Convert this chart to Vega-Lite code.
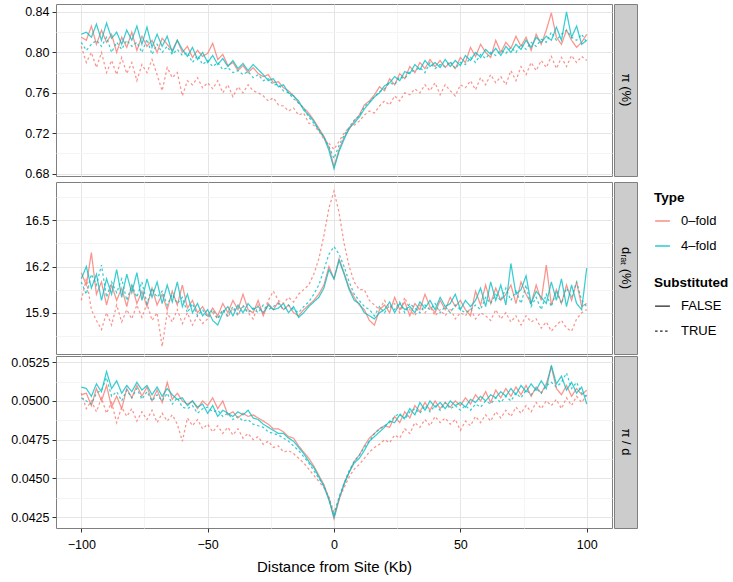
{
"$schema": "https://vega.github.io/schema/vega-lite/v6.json",
"padding": {"left": 0, "top": 3, "right": 0, "bottom": 0},
"config": {
  "font": "Liberation Sans",
  "view": {"stroke": "#7f7f7f"},
  "axis": {"labelFontSize": 12.5, "labelColor": "#000", "tickColor": "#333", "tickSize": 4, "domain": false, "labelPadding": 3, "titleFontWeight": "normal", "titleFontSize": 15, "titleColor": "#000"},
  "line": {"strokeWidth": 1.25, "opacity": 0.78}
},
"datasets": {
  "series": [
    {"key": "rF", "Type": "0–fold", "Substituted": "FALSE"},
    {"key": "cF", "Type": "4–fold", "Substituted": "FALSE"},
    {"key": "rT", "Type": "0–fold", "Substituted": "TRUE"},
    {"key": "cT", "Type": "4–fold", "Substituted": "TRUE"}
  ],
  "values": [
{"p":"pi","x":-100,"rF":0.815,"cF":0.818,"rT":0.806,"cT":0.810},
{"p":"pi","x":-98,"rF":0.812,"cF":0.820,"rT":0.790,"cT":0.802},
{"p":"pi","x":-96,"rF":0.826,"cF":0.815,"rT":0.800,"cT":0.808},
{"p":"pi","x":-94,"rF":0.808,"cF":0.828,"rT":0.785,"cT":0.812},
{"p":"pi","x":-92,"rF":0.822,"cF":0.812,"rT":0.800,"cT":0.806},
{"p":"pi","x":-90,"rF":0.810,"cF":0.829,"rT":0.780,"cT":0.815},
{"p":"pi","x":-88,"rF":0.818,"cF":0.814,"rT":0.792,"cT":0.800},
{"p":"pi","x":-86,"rF":0.800,"cF":0.820,"rT":0.778,"cT":0.810},
{"p":"pi","x":-84,"rF":0.815,"cF":0.808,"rT":0.795,"cT":0.803},
{"p":"pi","x":-82,"rF":0.805,"cF":0.822,"rT":0.779,"cT":0.812},
{"p":"pi","x":-80,"rF":0.820,"cF":0.812,"rT":0.790,"cT":0.806},
{"p":"pi","x":-78,"rF":0.802,"cF":0.826,"rT":0.772,"cT":0.810},
{"p":"pi","x":-76,"rF":0.816,"cF":0.808,"rT":0.788,"cT":0.800},
{"p":"pi","x":-74,"rF":0.806,"cF":0.825,"rT":0.780,"cT":0.813},
{"p":"pi","x":-72,"rF":0.812,"cF":0.805,"rT":0.793,"cT":0.798},
{"p":"pi","x":-70,"rF":0.800,"cF":0.818,"rT":0.778,"cT":0.808},
{"p":"pi","x":-68,"rF":0.814,"cF":0.806,"rT":0.762,"cT":0.800},
{"p":"pi","x":-66,"rF":0.808,"cF":0.816,"rT":0.785,"cT":0.806},
{"p":"pi","x":-64,"rF":0.802,"cF":0.800,"rT":0.775,"cT":0.798},
{"p":"pi","x":-62,"rF":0.812,"cF":0.812,"rT":0.780,"cT":0.803},
{"p":"pi","x":-60,"rF":0.800,"cF":0.803,"rT":0.757,"cT":0.797},
{"p":"pi","x":-58,"rF":0.806,"cF":0.796,"rT":0.772,"cT":0.800},
{"p":"pi","x":-56,"rF":0.795,"cF":0.805,"rT":0.768,"cT":0.790},
{"p":"pi","x":-54,"rF":0.802,"cF":0.793,"rT":0.775,"cT":0.797},
{"p":"pi","x":-52,"rF":0.796,"cF":0.800,"rT":0.765,"cT":0.788},
{"p":"pi","x":-50,"rF":0.799,"cF":0.790,"rT":0.770,"cT":0.792},
{"p":"pi","x":-48,"rF":0.809,"cF":0.797,"rT":0.764,"cT":0.786},
{"p":"pi","x":-46,"rF":0.793,"cF":0.788,"rT":0.772,"cT":0.790},
{"p":"pi","x":-44,"rF":0.798,"cF":0.794,"rT":0.760,"cT":0.783},
{"p":"pi","x":-42,"rF":0.787,"cF":0.786,"rT":0.768,"cT":0.785},
{"p":"pi","x":-40,"rF":0.790,"cF":0.792,"rT":0.756,"cT":0.780},
{"p":"pi","x":-38,"rF":0.782,"cF":0.784,"rT":0.766,"cT":0.782},
{"p":"pi","x":-36,"rF":0.787,"cF":0.789,"rT":0.760,"cT":0.778},
{"p":"pi","x":-34,"rF":0.780,"cF":0.782,"rT":0.768,"cT":0.781},
{"p":"pi","x":-32,"rF":0.785,"cF":0.788,"rT":0.762,"cT":0.775},
{"p":"pi","x":-30,"rF":0.779,"cF":0.783,"rT":0.760,"cT":0.778},
{"p":"pi","x":-28,"rF":0.776,"cF":0.778,"rT":0.757,"cT":0.772},
{"p":"pi","x":-26,"rF":0.778,"cF":0.772,"rT":0.752,"cT":0.774},
{"p":"pi","x":-24,"rF":0.770,"cF":0.774,"rT":0.755,"cT":0.768},
{"p":"pi","x":-22,"rF":0.771,"cF":0.766,"rT":0.748,"cT":0.768},
{"p":"pi","x":-20,"rF":0.765,"cF":0.768,"rT":0.747,"cT":0.762},
{"p":"pi","x":-18,"rF":0.762,"cF":0.760,"rT":0.742,"cT":0.760},
{"p":"pi","x":-16,"rF":0.757,"cF":0.757,"rT":0.745,"cT":0.754},
{"p":"pi","x":-14,"rF":0.750,"cF":0.752,"rT":0.738,"cT":0.750},
{"p":"pi","x":-12,"rF":0.745,"cF":0.743,"rT":0.740,"cT":0.745},
{"p":"pi","x":-10,"rF":0.740,"cF":0.738,"rT":0.730,"cT":0.736},
{"p":"pi","x":-8,"rF":0.733,"cF":0.732,"rT":0.728,"cT":0.730},
{"p":"pi","x":-6,"rF":0.725,"cF":0.723,"rT":0.722,"cT":0.724},
{"p":"pi","x":-4,"rF":0.717,"cF":0.716,"rT":0.714,"cT":0.716},
{"p":"pi","x":-2,"rF":0.706,"cF":0.703,"rT":0.710,"cT":0.707},
{"p":"pi","x":0,"rF":0.687,"cF":0.685,"rT":0.704,"cT":0.695},
{"p":"pi","x":2,"rF":0.704,"cF":0.702,"rT":0.712,"cT":0.708},
{"p":"pi","x":4,"rF":0.716,"cF":0.714,"rT":0.720,"cT":0.718},
{"p":"pi","x":6,"rF":0.724,"cF":0.725,"rT":0.726,"cT":0.726},
{"p":"pi","x":8,"rF":0.732,"cF":0.730,"rT":0.728,"cT":0.733},
{"p":"pi","x":10,"rF":0.738,"cF":0.736,"rT":0.732,"cT":0.737},
{"p":"pi","x":12,"rF":0.748,"cF":0.744,"rT":0.738,"cT":0.746},
{"p":"pi","x":14,"rF":0.752,"cF":0.750,"rT":0.742,"cT":0.751},
{"p":"pi","x":16,"rF":0.758,"cF":0.756,"rT":0.740,"cT":0.756},
{"p":"pi","x":18,"rF":0.766,"cF":0.760,"rT":0.747,"cT":0.761},
{"p":"pi","x":20,"rF":0.762,"cF":0.767,"rT":0.752,"cT":0.764},
{"p":"pi","x":22,"rF":0.774,"cF":0.770,"rT":0.748,"cT":0.770},
{"p":"pi","x":24,"rF":0.768,"cF":0.776,"rT":0.757,"cT":0.768},
{"p":"pi","x":26,"rF":0.779,"cF":0.772,"rT":0.752,"cT":0.776},
{"p":"pi","x":28,"rF":0.774,"cF":0.781,"rT":0.760,"cT":0.774},
{"p":"pi","x":30,"rF":0.786,"cF":0.779,"rT":0.758,"cT":0.781},
{"p":"pi","x":32,"rF":0.780,"cF":0.788,"rT":0.764,"cT":0.782},
{"p":"pi","x":34,"rF":0.790,"cF":0.783,"rT":0.760,"cT":0.785},
{"p":"pi","x":36,"rF":0.784,"cF":0.792,"rT":0.768,"cT":0.780},
{"p":"pi","x":38,"rF":0.793,"cF":0.786,"rT":0.762,"cT":0.790},
{"p":"pi","x":40,"rF":0.786,"cF":0.790,"rT":0.770,"cT":0.784},
{"p":"pi","x":42,"rF":0.792,"cF":0.785,"rT":0.758,"cT":0.788},
{"p":"pi","x":44,"rF":0.785,"cF":0.793,"rT":0.768,"cT":0.786},
{"p":"pi","x":46,"rF":0.790,"cF":0.786,"rT":0.762,"cT":0.791},
{"p":"pi","x":48,"rF":0.784,"cF":0.792,"rT":0.757,"cT":0.784},
{"p":"pi","x":50,"rF":0.795,"cF":0.787,"rT":0.768,"cT":0.790},
{"p":"pi","x":52,"rF":0.790,"cF":0.797,"rT":0.765,"cT":0.788},
{"p":"pi","x":54,"rF":0.805,"cF":0.792,"rT":0.772,"cT":0.795},
{"p":"pi","x":56,"rF":0.796,"cF":0.800,"rT":0.763,"cT":0.790},
{"p":"pi","x":58,"rF":0.808,"cF":0.795,"rT":0.775,"cT":0.798},
{"p":"pi","x":60,"rF":0.800,"cF":0.803,"rT":0.768,"cT":0.794},
{"p":"pi","x":62,"rF":0.795,"cF":0.798,"rT":0.778,"cT":0.800},
{"p":"pi","x":64,"rF":0.812,"cF":0.804,"rT":0.770,"cT":0.797},
{"p":"pi","x":66,"rF":0.800,"cF":0.797,"rT":0.776,"cT":0.802},
{"p":"pi","x":68,"rF":0.810,"cF":0.806,"rT":0.768,"cT":0.799},
{"p":"pi","x":70,"rF":0.804,"cF":0.800,"rT":0.782,"cT":0.805},
{"p":"pi","x":72,"rF":0.816,"cF":0.808,"rT":0.772,"cT":0.800},
{"p":"pi","x":74,"rF":0.806,"cF":0.803,"rT":0.786,"cT":0.808},
{"p":"pi","x":76,"rF":0.815,"cF":0.812,"rT":0.778,"cT":0.803},
{"p":"pi","x":78,"rF":0.802,"cF":0.805,"rT":0.790,"cT":0.810},
{"p":"pi","x":80,"rF":0.818,"cF":0.815,"rT":0.782,"cT":0.806},
{"p":"pi","x":82,"rF":0.808,"cF":0.810,"rT":0.792,"cT":0.813},
{"p":"pi","x":84,"rF":0.822,"cF":0.816,"rT":0.785,"cT":0.810},
{"p":"pi","x":86,"rF":0.839,"cF":0.812,"rT":0.796,"cT":0.820},
{"p":"pi","x":88,"rF":0.815,"cF":0.825,"rT":0.784,"cT":0.812},
{"p":"pi","x":90,"rF":0.808,"cF":0.812,"rT":0.795,"cT":0.818},
{"p":"pi","x":92,"rF":0.822,"cF":0.840,"rT":0.786,"cT":0.822},
{"p":"pi","x":94,"rF":0.812,"cF":0.815,"rT":0.797,"cT":0.815},
{"p":"pi","x":96,"rF":0.805,"cF":0.826,"rT":0.790,"cT":0.812},
{"p":"pi","x":98,"rF":0.810,"cF":0.808,"rT":0.796,"cT":0.818},
{"p":"pi","x":100,"rF":0.818,"cF":0.812,"rT":0.792,"cT":0.810},
{"p":"drat","x":-100,"rF":16.16,"cF":16.12,"rT":15.98,"cT":16.10},
{"p":"drat","x":-98,"rF":16.08,"cF":16.20,"rT":16.12,"cT":16.02},
{"p":"drat","x":-96,"rF":16.29,"cF":16.06,"rT":15.92,"cT":16.15},
{"p":"drat","x":-94,"rF":16.02,"cF":16.15,"rT":15.85,"cT":16.08},
{"p":"drat","x":-92,"rF":16.10,"cF":15.98,"rT":15.79,"cT":16.21},
{"p":"drat","x":-90,"rF":15.95,"cF":16.12,"rT":15.90,"cT":16.00},
{"p":"drat","x":-88,"rF":16.08,"cF":16.02,"rT":15.82,"cT":16.10},
{"p":"drat","x":-86,"rF":15.98,"cF":16.18,"rT":15.95,"cT":16.03},
{"p":"drat","x":-84,"rF":16.06,"cF":16.00,"rT":15.84,"cT":16.12},
{"p":"drat","x":-82,"rF":15.94,"cF":16.15,"rT":15.92,"cT":15.98},
{"p":"drat","x":-80,"rF":16.08,"cF":16.03,"rT":15.86,"cT":16.08},
{"p":"drat","x":-78,"rF":15.96,"cF":16.16,"rT":15.95,"cT":16.00},
{"p":"drat","x":-76,"rF":16.04,"cF":15.98,"rT":15.87,"cT":16.10},
{"p":"drat","x":-74,"rF":15.94,"cF":16.12,"rT":15.96,"cT":15.96},
{"p":"drat","x":-72,"rF":16.06,"cF":16.00,"rT":15.85,"cT":16.06},
{"p":"drat","x":-70,"rF":15.95,"cF":16.10,"rT":15.90,"cT":16.00},
{"p":"drat","x":-68,"rF":16.02,"cF":15.96,"rT":15.68,"cT":16.04},
{"p":"drat","x":-66,"rF":15.92,"cF":16.08,"rT":15.90,"cT":15.95},
{"p":"drat","x":-64,"rF":16.04,"cF":15.97,"rT":15.84,"cT":16.02},
{"p":"drat","x":-62,"rF":15.95,"cF":16.10,"rT":15.92,"cT":15.96},
{"p":"drat","x":-60,"rF":16.08,"cF":15.94,"rT":15.83,"cT":16.00},
{"p":"drat","x":-58,"rF":15.93,"cF":16.02,"rT":15.90,"cT":15.90},
{"p":"drat","x":-56,"rF":15.98,"cF":15.90,"rT":15.82,"cT":15.96},
{"p":"drat","x":-54,"rF":15.90,"cF":15.96,"rT":15.88,"cT":15.88},
{"p":"drat","x":-52,"rF":15.94,"cF":15.88,"rT":15.83,"cT":15.92},
{"p":"drat","x":-50,"rF":15.88,"cF":15.92,"rT":15.86,"cT":15.87},
{"p":"drat","x":-48,"rF":15.93,"cF":15.85,"rT":15.90,"cT":15.92},
{"p":"drat","x":-46,"rF":15.88,"cF":15.82,"rT":15.86,"cT":15.86},
{"p":"drat","x":-44,"rF":15.96,"cF":15.90,"rT":15.92,"cT":15.92},
{"p":"drat","x":-42,"rF":15.90,"cF":15.94,"rT":15.87,"cT":15.88},
{"p":"drat","x":-40,"rF":15.98,"cF":15.88,"rT":15.93,"cT":15.94},
{"p":"drat","x":-38,"rF":15.92,"cF":15.95,"rT":15.88,"cT":15.89},
{"p":"drat","x":-36,"rF":16.02,"cF":15.90,"rT":15.95,"cT":15.94},
{"p":"drat","x":-34,"rF":15.92,"cF":15.96,"rT":15.90,"cT":15.90},
{"p":"drat","x":-32,"rF":15.90,"cF":15.92,"rT":15.86,"cT":15.93},
{"p":"drat","x":-30,"rF":15.98,"cF":15.94,"rT":15.95,"cT":15.90},
{"p":"drat","x":-28,"rF":15.88,"cF":15.90,"rT":15.90,"cT":15.95},
{"p":"drat","x":-26,"rF":15.96,"cF":15.95,"rT":15.98,"cT":15.92},
{"p":"drat","x":-24,"rF":15.92,"cF":15.92,"rT":16.04,"cT":15.94},
{"p":"drat","x":-22,"rF":15.97,"cF":15.93,"rT":15.98,"cT":15.96},
{"p":"drat","x":-20,"rF":15.92,"cF":15.96,"rT":15.96,"cT":15.92},
{"p":"drat","x":-18,"rF":15.95,"cF":15.90,"rT":16.00,"cT":15.95},
{"p":"drat","x":-16,"rF":15.90,"cF":15.94,"rT":15.97,"cT":15.92},
{"p":"drat","x":-14,"rF":15.88,"cF":15.87,"rT":16.02,"cT":15.90},
{"p":"drat","x":-12,"rF":15.92,"cF":15.90,"rT":16.05,"cT":15.94},
{"p":"drat","x":-10,"rF":15.95,"cF":15.94,"rT":16.08,"cT":15.97},
{"p":"drat","x":-8,"rF":15.98,"cF":15.97,"rT":16.15,"cT":16.02},
{"p":"drat","x":-6,"rF":16.02,"cF":16.00,"rT":16.25,"cT":16.08},
{"p":"drat","x":-4,"rF":16.08,"cF":16.06,"rT":16.40,"cT":16.18},
{"p":"drat","x":-2,"rF":16.20,"cF":16.18,"rT":16.58,"cT":16.28},
{"p":"drat","x":0,"rF":16.12,"cF":16.12,"rT":16.69,"cT":16.33},
{"p":"drat","x":2,"rF":16.25,"cF":16.24,"rT":16.55,"cT":16.28},
{"p":"drat","x":4,"rF":16.16,"cF":16.15,"rT":16.35,"cT":16.20},
{"p":"drat","x":6,"rF":16.06,"cF":16.05,"rT":16.20,"cT":16.10},
{"p":"drat","x":8,"rF":16.00,"cF":15.98,"rT":16.10,"cT":16.02},
{"p":"drat","x":10,"rF":15.95,"cF":15.96,"rT":16.05,"cT":15.98},
{"p":"drat","x":12,"rF":15.92,"cF":15.90,"rT":16.05,"cT":15.94},
{"p":"drat","x":14,"rF":15.85,"cF":15.88,"rT":15.98,"cT":15.92},
{"p":"drat","x":16,"rF":15.82,"cF":15.86,"rT":15.95,"cT":15.88},
{"p":"drat","x":18,"rF":15.92,"cF":15.90,"rT":15.92,"cT":15.94},
{"p":"drat","x":20,"rF":15.95,"cF":15.92,"rT":15.98,"cT":15.90},
{"p":"drat","x":22,"rF":15.90,"cF":15.97,"rT":15.93,"cT":15.95},
{"p":"drat","x":24,"rF":16.00,"cF":15.90,"rT":15.96,"cT":15.92},
{"p":"drat","x":26,"rF":15.92,"cF":15.96,"rT":15.90,"cT":15.97},
{"p":"drat","x":28,"rF":15.97,"cF":15.92,"rT":16.00,"cT":15.90},
{"p":"drat","x":30,"rF":15.88,"cF":15.94,"rT":15.92,"cT":15.96},
{"p":"drat","x":32,"rF":15.96,"cF":15.90,"rT":15.88,"cT":15.93},
{"p":"drat","x":34,"rF":15.92,"cF":15.97,"rT":15.95,"cT":15.90},
{"p":"drat","x":36,"rF":16.02,"cF":15.93,"rT":15.90,"cT":15.95},
{"p":"drat","x":38,"rF":15.94,"cF":15.98,"rT":15.94,"cT":15.92},
{"p":"drat","x":40,"rF":15.90,"cF":15.92,"rT":15.88,"cT":15.96},
{"p":"drat","x":42,"rF":15.98,"cF":16.00,"rT":15.92,"cT":15.90},
{"p":"drat","x":44,"rF":15.92,"cF":15.94,"rT":15.88,"cT":15.94},
{"p":"drat","x":46,"rF":16.00,"cF":15.96,"rT":15.93,"cT":15.90},
{"p":"drat","x":48,"rF":15.94,"cF":16.02,"rT":15.86,"cT":15.95},
{"p":"drat","x":50,"rF":15.98,"cF":15.92,"rT":15.90,"cT":15.92},
{"p":"drat","x":52,"rF":15.92,"cF":15.98,"rT":15.88,"cT":15.90},
{"p":"drat","x":54,"rF":15.88,"cF":15.94,"rT":15.93,"cT":15.92},
{"p":"drat","x":56,"rF":16.04,"cF":15.98,"rT":15.86,"cT":15.95},
{"p":"drat","x":58,"rF":15.95,"cF":16.06,"rT":15.90,"cT":15.92},
{"p":"drat","x":60,"rF":16.08,"cF":15.94,"rT":15.88,"cT":16.00},
{"p":"drat","x":62,"rF":15.96,"cF":16.10,"rT":15.85,"cT":15.96},
{"p":"drat","x":64,"rF":16.06,"cF":15.98,"rT":15.92,"cT":16.02},
{"p":"drat","x":66,"rF":15.98,"cF":16.08,"rT":15.86,"cT":15.98},
{"p":"drat","x":68,"rF":16.02,"cF":15.95,"rT":15.90,"cT":16.06},
{"p":"drat","x":70,"rF":16.08,"cF":16.22,"rT":15.84,"cT":15.98},
{"p":"drat","x":72,"rF":15.96,"cF":16.02,"rT":15.88,"cT":16.04},
{"p":"drat","x":74,"rF":16.10,"cF":16.05,"rT":15.82,"cT":15.96},
{"p":"drat","x":76,"rF":16.02,"cF":16.14,"rT":15.88,"cT":16.08},
{"p":"drat","x":78,"rF":15.96,"cF":15.96,"rT":15.84,"cT":15.94},
{"p":"drat","x":80,"rF":16.08,"cF":16.04,"rT":15.86,"cT":16.00},
{"p":"drat","x":82,"rF":15.98,"cF":16.00,"rT":15.80,"cT":15.92},
{"p":"drat","x":84,"rF":16.21,"cF":15.96,"rT":15.84,"cT":16.02},
{"p":"drat","x":86,"rF":15.95,"cF":16.10,"rT":15.78,"cT":15.94},
{"p":"drat","x":88,"rF":16.05,"cF":15.98,"rT":15.82,"cT":16.04},
{"p":"drat","x":90,"rF":15.96,"cF":16.12,"rT":15.85,"cT":15.96},
{"p":"drat","x":92,"rF":16.08,"cF":15.94,"rT":15.80,"cT":16.06},
{"p":"drat","x":94,"rF":15.98,"cF":16.08,"rT":15.78,"cT":16.00},
{"p":"drat","x":96,"rF":16.10,"cF":15.96,"rT":15.86,"cT":16.10},
{"p":"drat","x":98,"rF":15.94,"cF":15.92,"rT":15.90,"cT":15.98},
{"p":"drat","x":100,"rF":15.96,"cF":16.19,"rT":15.92,"cT":15.94},
{"p":"pid","x":-100,"rF":0.0504,"cF":0.0509,"rT":0.0505,"cT":0.0502},
{"p":"pid","x":-98,"rF":0.0505,"cF":0.0508,"rT":0.0495,"cT":0.0500},
{"p":"pid","x":-96,"rF":0.0497,"cF":0.0503,"rT":0.0500,"cT":0.0498},
{"p":"pid","x":-94,"rF":0.0508,"cF":0.0511,"rT":0.0493,"cT":0.0505},
{"p":"pid","x":-92,"rF":0.0500,"cF":0.0506,"rT":0.0502,"cT":0.0507},
{"p":"pid","x":-90,"rF":0.0510,"cF":0.0519,"rT":0.0492,"cT":0.0515},
{"p":"pid","x":-88,"rF":0.0496,"cF":0.0508,"rT":0.0499,"cT":0.0503},
{"p":"pid","x":-86,"rF":0.0503,"cF":0.0513,"rT":0.0486,"cT":0.0506},
{"p":"pid","x":-84,"rF":0.0495,"cF":0.0505,"rT":0.0496,"cT":0.0500},
{"p":"pid","x":-82,"rF":0.0508,"cF":0.0510,"rT":0.0490,"cT":0.0507},
{"p":"pid","x":-80,"rF":0.0502,"cF":0.0506,"rT":0.0495,"cT":0.0502},
{"p":"pid","x":-78,"rF":0.0510,"cF":0.0512,"rT":0.0487,"cT":0.0508},
{"p":"pid","x":-76,"rF":0.0503,"cF":0.0507,"rT":0.0493,"cT":0.0501},
{"p":"pid","x":-74,"rF":0.0509,"cF":0.0510,"rT":0.0488,"cT":0.0506},
{"p":"pid","x":-72,"rF":0.0500,"cF":0.0504,"rT":0.0494,"cT":0.0500},
{"p":"pid","x":-70,"rF":0.0507,"cF":0.0509,"rT":0.0486,"cT":0.0504},
{"p":"pid","x":-68,"rF":0.0499,"cF":0.0503,"rT":0.0492,"cT":0.0500},
{"p":"pid","x":-66,"rF":0.0512,"cF":0.0508,"rT":0.0487,"cT":0.0505},
{"p":"pid","x":-64,"rF":0.0501,"cF":0.0504,"rT":0.0491,"cT":0.0498},
{"p":"pid","x":-62,"rF":0.0505,"cF":0.0501,"rT":0.0485,"cT":0.0502},
{"p":"pid","x":-60,"rF":0.0500,"cF":0.0502,"rT":0.0474,"cT":0.0496},
{"p":"pid","x":-58,"rF":0.0498,"cF":0.0497,"rT":0.0489,"cT":0.0495},
{"p":"pid","x":-56,"rF":0.0500,"cF":0.0500,"rT":0.0484,"cT":0.0497},
{"p":"pid","x":-54,"rF":0.0495,"cF":0.0496,"rT":0.0488,"cT":0.0492},
{"p":"pid","x":-52,"rF":0.0500,"cF":0.0498,"rT":0.0482,"cT":0.0495},
{"p":"pid","x":-50,"rF":0.0497,"cF":0.0492,"rT":0.0485,"cT":0.0496},
{"p":"pid","x":-48,"rF":0.0502,"cF":0.0497,"rT":0.0480,"cT":0.0493},
{"p":"pid","x":-46,"rF":0.0495,"cF":0.0490,"rT":0.0484,"cT":0.0494},
{"p":"pid","x":-44,"rF":0.0500,"cF":0.0494,"rT":0.0479,"cT":0.0490},
{"p":"pid","x":-42,"rF":0.0491,"cF":0.0492,"rT":0.0483,"cT":0.0492},
{"p":"pid","x":-40,"rF":0.0493,"cF":0.0490,"rT":0.0478,"cT":0.0488},
{"p":"pid","x":-38,"rF":0.0489,"cF":0.0493,"rT":0.0482,"cT":0.0490},
{"p":"pid","x":-36,"rF":0.0492,"cF":0.0491,"rT":0.0476,"cT":0.0487},
{"p":"pid","x":-34,"rF":0.0490,"cF":0.0494,"rT":0.0479,"cT":0.0488},
{"p":"pid","x":-32,"rF":0.0491,"cF":0.0489,"rT":0.0475,"cT":0.0485},
{"p":"pid","x":-30,"rF":0.0489,"cF":0.0488,"rT":0.0477,"cT":0.0484},
{"p":"pid","x":-28,"rF":0.0487,"cF":0.0485,"rT":0.0472,"cT":0.0483},
{"p":"pid","x":-26,"rF":0.0485,"cF":0.0483,"rT":0.0474,"cT":0.0480},
{"p":"pid","x":-24,"rF":0.0482,"cF":0.0481,"rT":0.0470,"cT":0.0479},
{"p":"pid","x":-22,"rF":0.0482,"cF":0.0479,"rT":0.0471,"cT":0.0478},
{"p":"pid","x":-20,"rF":0.0480,"cF":0.0479,"rT":0.0467,"cT":0.0476},
{"p":"pid","x":-18,"rF":0.0477,"cF":0.0476,"rT":0.0468,"cT":0.0474},
{"p":"pid","x":-16,"rF":0.0476,"cF":0.0474,"rT":0.0466,"cT":0.0471},
{"p":"pid","x":-14,"rF":0.0471,"cF":0.0470,"rT":0.0463,"cT":0.0468},
{"p":"pid","x":-12,"rF":0.0467,"cF":0.0466,"rT":0.0460,"cT":0.0464},
{"p":"pid","x":-10,"rF":0.0463,"cF":0.0461,"rT":0.0456,"cT":0.0460},
{"p":"pid","x":-8,"rF":0.0458,"cF":0.0457,"rT":0.0452,"cT":0.0455},
{"p":"pid","x":-6,"rF":0.0452,"cF":0.0451,"rT":0.0448,"cT":0.0450},
{"p":"pid","x":-4,"rF":0.0446,"cF":0.0445,"rT":0.0444,"cT":0.0445},
{"p":"pid","x":-2,"rF":0.0437,"cF":0.0436,"rT":0.0438,"cT":0.0437},
{"p":"pid","x":0,"rF":0.0424,"cF":0.0425,"rT":0.0428,"cT":0.0426},
{"p":"pid","x":2,"rF":0.0436,"cF":0.0437,"rT":0.0437,"cT":0.0438},
{"p":"pid","x":4,"rF":0.0447,"cF":0.0446,"rT":0.0444,"cT":0.0447},
{"p":"pid","x":6,"rF":0.0454,"cF":0.0454,"rT":0.0451,"cT":0.0455},
{"p":"pid","x":8,"rF":0.0461,"cF":0.0460,"rT":0.0456,"cT":0.0461},
{"p":"pid","x":10,"rF":0.0465,"cF":0.0463,"rT":0.0459,"cT":0.0465},
{"p":"pid","x":12,"rF":0.0471,"cF":0.0468,"rT":0.0463,"cT":0.0470},
{"p":"pid","x":14,"rF":0.0476,"cF":0.0474,"rT":0.0467,"cT":0.0474},
{"p":"pid","x":16,"rF":0.0479,"cF":0.0477,"rT":0.0470,"cT":0.0479},
{"p":"pid","x":18,"rF":0.0482,"cF":0.0480,"rT":0.0472,"cT":0.0482},
{"p":"pid","x":20,"rF":0.0484,"cF":0.0483,"rT":0.0475,"cT":0.0484},
{"p":"pid","x":22,"rF":0.0483,"cF":0.0487,"rT":0.0473,"cT":0.0486},
{"p":"pid","x":24,"rF":0.0490,"cF":0.0486,"rT":0.0478,"cT":0.0490},
{"p":"pid","x":26,"rF":0.0486,"cF":0.0491,"rT":0.0476,"cT":0.0492},
{"p":"pid","x":28,"rF":0.0493,"cF":0.0489,"rT":0.0482,"cT":0.0488},
{"p":"pid","x":30,"rF":0.0489,"cF":0.0495,"rT":0.0479,"cT":0.0493},
{"p":"pid","x":32,"rF":0.0497,"cF":0.0491,"rT":0.0486,"cT":0.0495},
{"p":"pid","x":34,"rF":0.0493,"cF":0.0499,"rT":0.0483,"cT":0.0492},
{"p":"pid","x":36,"rF":0.0499,"cF":0.0494,"rT":0.0488,"cT":0.0497},
{"p":"pid","x":38,"rF":0.0494,"cF":0.0500,"rT":0.0484,"cT":0.0493},
{"p":"pid","x":40,"rF":0.0500,"cF":0.0496,"rT":0.0490,"cT":0.0497},
{"p":"pid","x":42,"rF":0.0495,"cF":0.0499,"rT":0.0486,"cT":0.0494},
{"p":"pid","x":44,"rF":0.0499,"cF":0.0495,"rT":0.0489,"cT":0.0499},
{"p":"pid","x":46,"rF":0.0496,"cF":0.0500,"rT":0.0485,"cT":0.0495},
{"p":"pid","x":48,"rF":0.0500,"cF":0.0497,"rT":0.0488,"cT":0.0497},
{"p":"pid","x":50,"rF":0.0497,"cF":0.0499,"rT":0.0481,"cT":0.0494},
{"p":"pid","x":52,"rF":0.0502,"cF":0.0496,"rT":0.0487,"cT":0.0497},
{"p":"pid","x":54,"rF":0.0498,"cF":0.0501,"rT":0.0484,"cT":0.0494},
{"p":"pid","x":56,"rF":0.0504,"cF":0.0499,"rT":0.0490,"cT":0.0498},
{"p":"pid","x":58,"rF":0.0500,"cF":0.0503,"rT":0.0486,"cT":0.0496},
{"p":"pid","x":60,"rF":0.0506,"cF":0.0500,"rT":0.0491,"cT":0.0500},
{"p":"pid","x":62,"rF":0.0499,"cF":0.0504,"rT":0.0487,"cT":0.0498},
{"p":"pid","x":64,"rF":0.0507,"cF":0.0502,"rT":0.0493,"cT":0.0502},
{"p":"pid","x":66,"rF":0.0502,"cF":0.0506,"rT":0.0489,"cT":0.0499},
{"p":"pid","x":68,"rF":0.0508,"cF":0.0503,"rT":0.0494,"cT":0.0503},
{"p":"pid","x":70,"rF":0.0503,"cF":0.0508,"rT":0.0490,"cT":0.0500},
{"p":"pid","x":72,"rF":0.0509,"cF":0.0504,"rT":0.0496,"cT":0.0505},
{"p":"pid","x":74,"rF":0.0504,"cF":0.0510,"rT":0.0492,"cT":0.0502},
{"p":"pid","x":76,"rF":0.0510,"cF":0.0506,"rT":0.0497,"cT":0.0507},
{"p":"pid","x":78,"rF":0.0503,"cF":0.0511,"rT":0.0493,"cT":0.0504},
{"p":"pid","x":80,"rF":0.0509,"cF":0.0507,"rT":0.0499,"cT":0.0508},
{"p":"pid","x":82,"rF":0.0505,"cF":0.0513,"rT":0.0495,"cT":0.0505},
{"p":"pid","x":84,"rF":0.0511,"cF":0.0508,"rT":0.0500,"cT":0.0510},
{"p":"pid","x":86,"rF":0.0522,"cF":0.0523,"rT":0.0497,"cT":0.0512},
{"p":"pid","x":88,"rF":0.0508,"cF":0.0511,"rT":0.0501,"cT":0.0509},
{"p":"pid","x":90,"rF":0.0504,"cF":0.0516,"rT":0.0495,"cT":0.0512},
{"p":"pid","x":92,"rF":0.0510,"cF":0.0507,"rT":0.0502,"cT":0.0518},
{"p":"pid","x":94,"rF":0.0503,"cF":0.0512,"rT":0.0497,"cT":0.0508},
{"p":"pid","x":96,"rF":0.0508,"cF":0.0505,"rT":0.0503,"cT":0.0512},
{"p":"pid","x":98,"rF":0.0504,"cF":0.0509,"rT":0.0499,"cT":0.0505},
{"p":"pid","x":100,"rF":0.0507,"cF":0.0498,"rT":0.0504,"cT":0.0503}
  ]
},
"spacing": 0,
"resolve": {"scale": {"y": "independent"}},
"vconcat": [
  {"spacing": 0, "hconcat": [
    {"width": 556, "height": 172,
     "data": {"name": "values"},
     "transform": [
       {"filter": "datum.p === 'pi'"},
       {"fold": ["rF", "cF", "rT", "cT"], "as": ["key", "y"]},
       {"lookup": "key", "from": {"data": {"name": "series"}, "key": "key", "fields": ["Type", "Substituted"]}}
     ],
     "mark": {"type": "line"},
     "encoding": {
       "x": {"field": "x", "type": "quantitative", "scale": {"domain": [-110, 110], "nice": false},
             "axis": {"title": null, "labels": false, "ticks": false, "values": [-100, -75, -50, -25, 0, 25, 50, 75, 100],
                      "gridColor": {"condition": {"test": "datum.value % 50 === 0", "value": "#e5e5e5"}, "value": "#f4f4f4"}}},
       "y": {"field": "y", "type": "quantitative", "scale": {"domain": [0.6777, 0.8479], "nice": false, "zero": false},
             "axis": {"title": null, "minExtent": 55, "maxExtent": 55, "format": ".2f",
                      "values": [0.68, 0.70, 0.72, 0.74, 0.76, 0.78, 0.80, 0.82, 0.84],
                      "labelExpr": "round(datum.value*100) % 4 === 0 ? datum.label : ''",
                      "tickOpacity": {"condition": {"test": "round(datum.value*100) % 4 === 0", "value": 1}, "value": 0},
                      "gridColor": {"condition": {"test": "round(datum.value*100) % 4 === 0", "value": "#e5e5e5"}, "value": "#f4f4f4"}}},
       "color": {"field": "Type", "type": "nominal", "scale": {"domain": ["0–fold", "4–fold"], "range": ["#F8766D", "#00BFC4"]},
                 "legend": {"orient": "none", "legendX": 598, "legendY": 187, "title": "Type", "symbolType": "stroke", "symbolStrokeWidth": 1.5, "symbolSize": 220, "titleFontSize": 13.5, "titleFontWeight": "bold", "titleColor": "#000", "labelFontSize": 13, "labelColor": "#000", "rowPadding": 9, "titlePadding": 8, "labelOffset": 10}},
       "strokeDash": {"field": "Substituted", "type": "nominal", "scale": {"domain": ["FALSE", "TRUE"], "range": [[1, 0], [2.5, 2.5]]},
                 "legend": {"orient": "none", "legendX": 598, "legendY": 272, "title": "Substituted", "symbolType": "stroke", "symbolStrokeColor": "#222", "symbolStrokeWidth": 1.5, "symbolSize": 220, "titleFontSize": 13.5, "titleFontWeight": "bold", "titleColor": "#000", "labelFontSize": 13, "labelColor": "#000", "rowPadding": 9, "titlePadding": 8, "labelOffset": 10}}
     }},
    {"width": 23, "height": 172,
     "view": {"fill": "#cccccc", "stroke": "#7f7f7f"},
     "data": {"values": [{"label": "π (%)"}]},
     "mark": {"type": "text", "angle": 90, "fontSize": 13, "color": "#000"},
     "encoding": {"text": {"field": "label"}}}
  ]},
  {"spacing": 0, "hconcat": [
    {"width": 556, "height": 172,
     "data": {"name": "values"},
     "transform": [
       {"filter": "datum.p === 'drat'"},
       {"fold": ["rF", "cF", "rT", "cT"], "as": ["key", "y"]},
       {"lookup": "key", "from": {"data": {"name": "series"}, "key": "key", "fields": ["Type", "Substituted"]}}
     ],
     "mark": {"type": "line"},
     "encoding": {
       "x": {"field": "x", "type": "quantitative", "scale": {"domain": [-110, 110], "nice": false},
             "axis": {"title": null, "labels": false, "ticks": false, "values": [-100, -75, -50, -25, 0, 25, 50, 75, 100],
                      "gridColor": {"condition": {"test": "datum.value % 50 === 0", "value": "#e5e5e5"}, "value": "#f4f4f4"}}},
       "y": {"field": "y", "type": "quantitative", "scale": {"domain": [15.632, 16.749], "nice": false, "zero": false},
             "axis": {"title": null, "minExtent": 55, "maxExtent": 55, "format": ".1f",
                      "values": [15.75, 15.9, 16.05, 16.2, 16.35, 16.5, 16.65],
                      "labelExpr": "round(datum.value*100) % 30 === 0 ? datum.label : ''",
                      "tickOpacity": {"condition": {"test": "round(datum.value*100) % 30 === 0", "value": 1}, "value": 0},
                      "gridColor": {"condition": {"test": "round(datum.value*100) % 30 === 0", "value": "#e5e5e5"}, "value": "#f4f4f4"}}},
       "color": {"field": "Type", "type": "nominal", "scale": {"domain": ["0–fold", "4–fold"], "range": ["#F8766D", "#00BFC4"]}},
       "strokeDash": {"field": "Substituted", "type": "nominal", "scale": {"domain": ["FALSE", "TRUE"], "range": [[1, 0], [2.5, 2.5]]}}
     }},
    {"width": 23, "height": 172,
     "view": {"fill": "#cccccc", "stroke": "#7f7f7f"},
     "data": {"values": [{"label": "dᵣₐₜ (%)"}]},
     "mark": {"type": "text", "angle": 90, "fontSize": 13, "color": "#000"},
     "encoding": {"text": {"field": "label"}}}
  ]},
  {"spacing": 0, "hconcat": [
    {"width": 556, "height": 172,
     "data": {"name": "values"},
     "transform": [
       {"filter": "datum.p === 'pid'"},
       {"fold": ["rF", "cF", "rT", "cT"], "as": ["key", "y"]},
       {"lookup": "key", "from": {"data": {"name": "series"}, "key": "key", "fields": ["Type", "Substituted"]}}
     ],
     "mark": {"type": "line"},
     "encoding": {
       "x": {"field": "x", "type": "quantitative", "scale": {"domain": [-110, 110], "nice": false},
             "axis": {"title": "Distance from Site (Kb)", "format": "d", "labelPadding": 6, "titlePadding": 9, "values": [-100, -75, -50, -25, 0, 25, 50, 75, 100],
                      "labelExpr": "datum.value % 50 === 0 ? datum.label : ''",
                      "tickOpacity": {"condition": {"test": "datum.value % 50 === 0", "value": 1}, "value": 0},
                      "gridColor": {"condition": {"test": "datum.value % 50 === 0", "value": "#e5e5e5"}, "value": "#f4f4f4"}}},
       "y": {"field": "y", "type": "quantitative", "scale": {"domain": [0.0418, 0.0529], "nice": false, "zero": false},
             "axis": {"title": null, "minExtent": 55, "maxExtent": 55, "format": ".4f",
                      "values": [0.0425, 0.04375, 0.045, 0.04625, 0.0475, 0.04875, 0.05, 0.05125, 0.0525],
                      "labelExpr": "round(datum.value*100000) % 250 === 0 ? datum.label : ''",
                      "tickOpacity": {"condition": {"test": "round(datum.value*100000) % 250 === 0", "value": 1}, "value": 0},
                      "gridColor": {"condition": {"test": "round(datum.value*100000) % 250 === 0", "value": "#e5e5e5"}, "value": "#f4f4f4"}}},
       "color": {"field": "Type", "type": "nominal", "scale": {"domain": ["0–fold", "4–fold"], "range": ["#F8766D", "#00BFC4"]}},
       "strokeDash": {"field": "Substituted", "type": "nominal", "scale": {"domain": ["FALSE", "TRUE"], "range": [[1, 0], [2.5, 2.5]]}}
     }},
    {"width": 23, "height": 172,
     "view": {"fill": "#cccccc", "stroke": "#7f7f7f"},
     "data": {"values": [{"label": "π / d"}]},
     "mark": {"type": "text", "angle": 90, "fontSize": 13, "color": "#000"},
     "encoding": {"text": {"field": "label"}}}
  ]}
]
}
